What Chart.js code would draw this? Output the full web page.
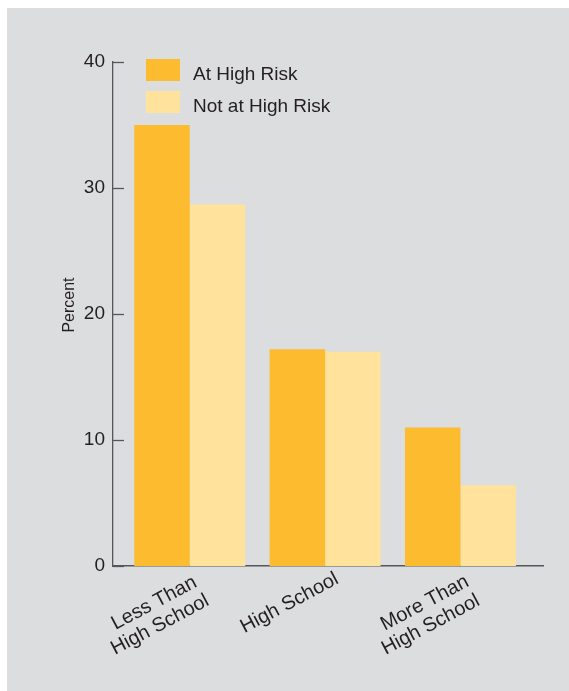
<!DOCTYPE html>
<html>
<head>
<meta charset="utf-8">
<script src="https://cdn.jsdelivr.net/npm/chart.js@4/dist/chart.umd.min.js"></script>
<style>
  html, body { margin: 0; padding: 0; background: #ffffff; }
  #wrap { width: 569px; height: 691px; position: relative; }
</style>
</head>
<body>
<div id="wrap"><canvas id="chart" width="569" height="691"></canvas></div>
<script>
// Education level groups (multi-line labels)
const categories = [['Less Than', 'High School'], ['High School'], ['More Than', 'High School']];
const seriesNames = ['At High Risk', 'Not at High Risk'];
// Percent of respondents in each group
const atHighRisk = [35.0, 17.2, 11.0];
const notAtHighRisk = [28.7, 17.0, 6.4];
const yTicks = [0, 10, 20, 30, 40];
const yTitle = 'Percent';

const FONT = '"Liberation Sans", Arial, Helvetica, sans-serif';
const TEXT = '#231f20';
const AXIS = '#55565a';
const PANEL = '#dcdddf';
const COLORS = ['#fdbb30', '#ffe29c'];

const decor = {
  id: 'decor',
  beforeDraw(chart) {
    const { ctx, width, height } = chart;
    ctx.save();
    ctx.fillStyle = '#ffffff';
    ctx.fillRect(0, 0, width, height);
    ctx.fillStyle = PANEL;
    ctx.fillRect(7, 8, width - 7, height - 8);
    ctx.restore();
  },
  afterDraw(chart) {
    const { ctx, chartArea } = chart;
    const xs = chart.scales.x, ys = chart.scales.y;
    ctx.save();

    // inward tick marks on the value axis
    ctx.strokeStyle = AXIS;
    ctx.lineWidth = 1.3;
    yTicks.forEach(v => {
      const y = Math.round(ys.getPixelForValue(v)) + 0.5;
      ctx.beginPath();
      ctx.moveTo(chartArea.left, y);
      ctx.lineTo(chartArea.left + 11, y);
      ctx.stroke();
    });

    // slanted category labels, lines centred on each other
    ctx.fillStyle = TEXT;
    ctx.font = '20px ' + FONT;
    ctx.textAlign = 'center';
    ctx.textBaseline = 'alphabetic';
    const ang = -28 * Math.PI / 180;
    categories.forEach((lines, i) => {
      const px = xs.getPixelForValue(i);
      ctx.save();
      ctx.translate(px - 33, chartArea.bottom + 42);
      ctx.rotate(ang);
      lines.forEach((t, j) => ctx.fillText(t, -5 * j, j * 22));
      ctx.restore();
    });

    // legend inside the plot area
    ctx.font = '19px ' + FONT;
    ctx.textAlign = 'left';
    chart.data.datasets.forEach((ds, i) => {
      const top = 59 + i * 32;
      ctx.fillStyle = ds.backgroundColor;
      ctx.fillRect(146, top, 34, 22);
      ctx.fillStyle = TEXT;
      ctx.fillText(ds.label, 193, top + 21);
    });

    // value axis title
    ctx.font = '16px ' + FONT;
    ctx.textAlign = 'center';
    ctx.translate(74, 305);
    ctx.rotate(-Math.PI / 2);
    ctx.fillText(yTitle, 0, 0);
    ctx.restore();
  }
};

new Chart(document.getElementById('chart'), {
  type: 'bar',
  data: {
    datasets: [
      {
        label: seriesNames[0],
        data: atHighRisk.map((v, i) => ({ x: i, y: v })),
        backgroundColor: COLORS[0],
        borderWidth: 0,
        categoryPercentage: 0.82,
        barPercentage: 1.0
      },
      {
        label: seriesNames[1],
        data: notAtHighRisk.map((v, i) => ({ x: i, y: v })),
        backgroundColor: COLORS[1],
        borderWidth: 0,
        categoryPercentage: 0.82,
        barPercentage: 1.0
      }
    ]
  },
  options: {
    responsive: false,
    devicePixelRatio: 1,
    animation: false,
    layout: { padding: { left: 0, top: 62, right: 26, bottom: 0 } },
    plugins: { legend: { display: false }, tooltip: { enabled: false } },
    scales: {
      x: {
        type: 'linear',
        offset: false,
        min: -0.567,
        max: 2.61,
        grid: { display: false, drawTicks: false },
        border: { display: true, color: AXIS, width: 1.5 },
        ticks: { display: false },
        afterBuildTicks: s => { s.ticks = categories.map((_, i) => ({ value: i })); },
        afterFit: s => { s.height = 125; }
      },
      y: {
        min: 0,
        max: 40,
        grid: { display: false, drawTicks: false },
        border: { display: true, color: AXIS, width: 1.3 },
        afterBuildTicks: s => { s.ticks = yTicks.map(v => ({ value: v })); },
        ticks: {
          padding: 8,
          color: TEXT,
          font: { family: FONT, size: 19 }
        },
        afterFit: s => { s.width = 113; }
      }
    }
  },
  plugins: [decor]
});
</script>
</body>
</html>
